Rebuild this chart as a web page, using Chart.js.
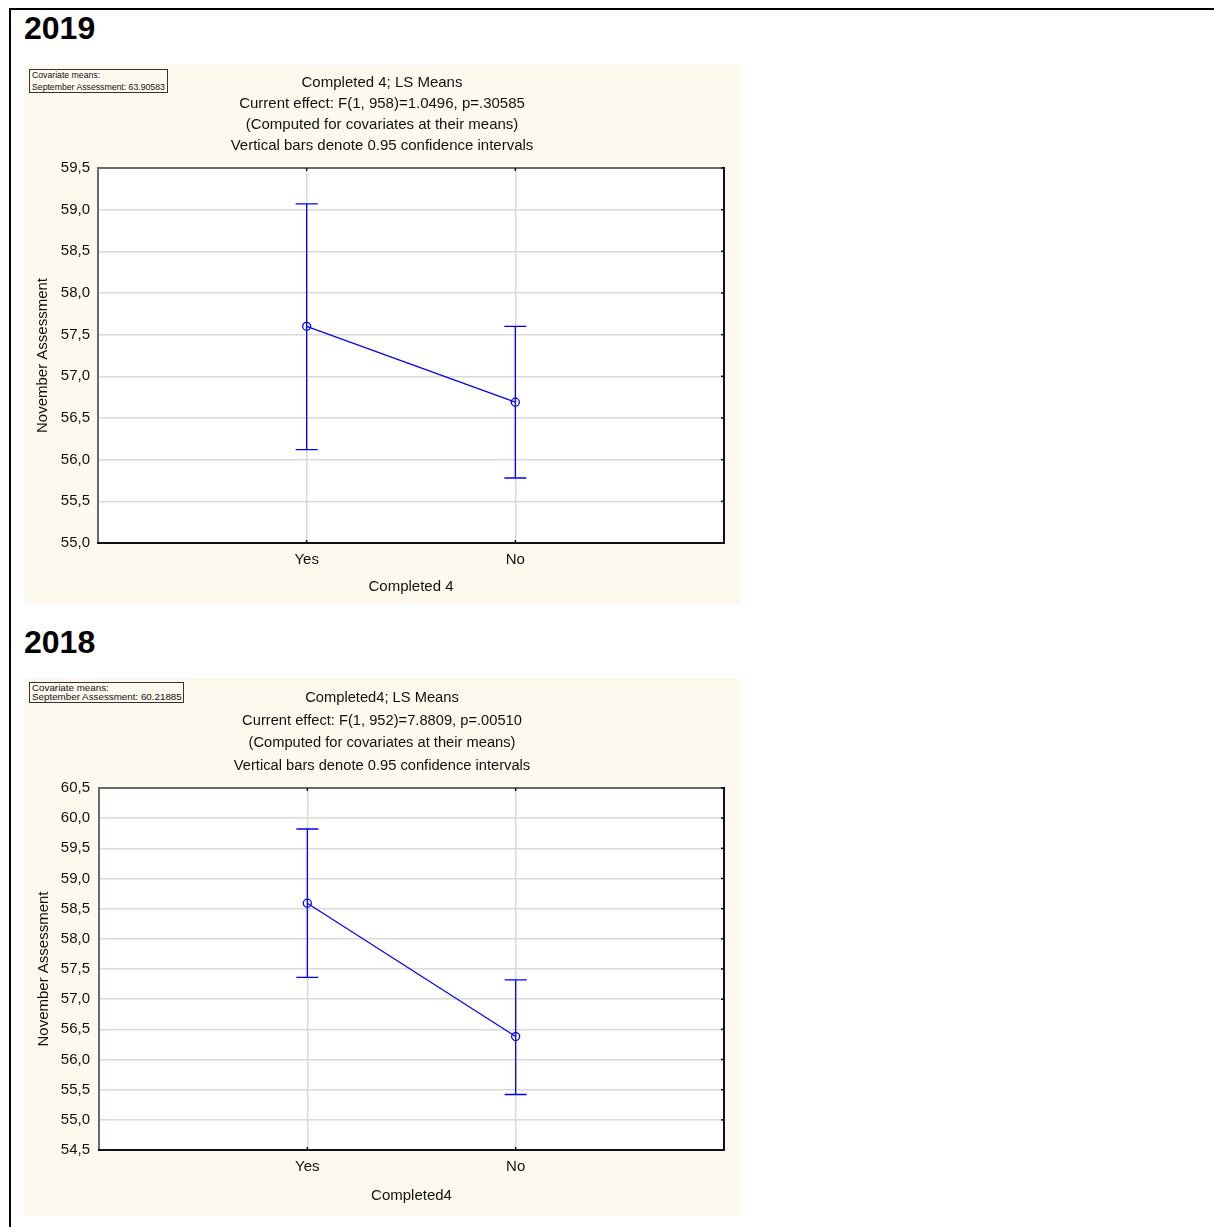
<!DOCTYPE html>
<html>
<head>
<meta charset="utf-8">
<script src="https://cdn.jsdelivr.net/npm/chart.js@4/dist/chart.umd.min.js"></script>
<style>
  html, body { margin: 0; padding: 0; background: #fff; }
  body { width: 1214px; height: 1227px; position: relative; overflow: hidden;
         font-family: "Liberation Sans", Arial, sans-serif; color: #111; }
  #frame { position: absolute; left: 9px; top: 8px; width: 1210px; height: 1225px;
           border-top: 2px solid #000; border-left: 2px solid #000; }
  .year { position: absolute; left: 24px; font-weight: bold; font-size: 32px; line-height: 32px; color: #000; }
  .panel { position: absolute; left: 24px; width: 716px; background: #fdf9ee; }
  .panel canvas { display: block; }
  .cov { position: absolute; border: 1px solid #333; background: #fdf9ee; color: #111;
         box-sizing: border-box; white-space: nowrap; padding-left: 2px; }
</style>
</head>
<body>
<div id="frame"></div>

<div class="year" style="top:12px">2019</div>
<div class="panel" style="top:65px;height:539px">
  <canvas id="chart2019" width="716" height="539"></canvas>
  <div class="cov" style="left:5px;top:4px;width:139px;height:24px;font-size:8.7px;line-height:11.5px;padding-top:0">Covariate means:<br>September Assessment: 63.90583</div>
</div>

<div class="year" style="top:626px">2018</div>
<div class="panel" style="top:678px;height:538px">
  <canvas id="chart2018" width="716" height="538"></canvas>
  <div class="cov" style="left:5px;top:4px;width:155px;height:21px;font-size:9.8px;line-height:9.4px;padding-top:0">Covariate means:<br>September Assessment: 60.21885</div>
</div>

<script>
// Group labels on the x axis
const categories = ['Yes', 'No'];

// 2019: least-squares means and 95% confidence limits
const means2019 = [57.60, 56.69];
const lower2019 = [56.12, 55.78];
const upper2019 = [59.07, 57.60];
const title2019 = [
  'Completed 4; LS Means',
  'Current effect: F(1, 958)=1.0496, p=.30585',
  '(Computed for covariates at their means)',
  'Vertical bars denote 0.95 confidence intervals'
];
const xTitle2019 = 'Completed 4';
const yRange2019 = [55.0, 59.5];

// 2018: least-squares means and 95% confidence limits
const means2018 = [58.59, 56.38];
const lower2018 = [57.36, 55.42];
const upper2018 = [59.82, 57.32];
const title2018 = [
  'Completed4; LS Means',
  'Current effect: F(1, 952)=7.8809, p=.00510',
  '(Computed for covariates at their means)',
  'Vertical bars denote 0.95 confidence intervals'
];
const xTitle2018 = 'Completed4';
const yRange2018 = [54.5, 60.5];

const yTitle = 'November Assessment';
const yStep = 0.5;

const FONT = '"Liberation Sans", Arial, sans-serif';
const BLUE = '#0000ff';
const GRID = '#dadada';
const TEXT = '#111';

// White plotting area, then a frame with small inward tick marks
const plotFrame = {
  id: 'plotFrame',
  beforeDraw(chart) {
    const {ctx, chartArea: a} = chart;
    ctx.save();
    ctx.fillStyle = '#ffffff';
    ctx.fillRect(a.left, a.top, a.right - a.left, a.bottom - a.top);
    ctx.restore();
  },
  afterDraw(chart) {
    const {ctx, chartArea: a, scales} = chart;
    ctx.save();
    ctx.lineWidth = 2;
    ctx.strokeStyle = '#6a6a6a';
    ctx.beginPath();
    ctx.moveTo(a.left, a.bottom); ctx.lineTo(a.left, a.top); ctx.lineTo(a.right, a.top);
    ctx.stroke();
    ctx.strokeStyle = '#111';
    ctx.beginPath();
    ctx.moveTo(a.left - 1, a.bottom); ctx.lineTo(a.right, a.bottom); ctx.lineTo(a.right, a.top - 1);
    ctx.stroke();
    ctx.lineWidth = 1.5;
    scales.y.ticks.forEach(t => {
      const y = scales.y.getPixelForValue(t.value);
      ctx.beginPath(); ctx.moveTo(a.right, y); ctx.lineTo(a.right - 3, y); ctx.stroke();
    });
    scales.x.ticks.forEach(t => {
      const x = scales.x.getPixelForValue(t.value);
      ctx.beginPath(); ctx.moveTo(x, a.bottom); ctx.lineTo(x, a.bottom - 3); ctx.stroke();
      ctx.beginPath(); ctx.moveTo(x, a.top); ctx.lineTo(x, a.top + 3); ctx.stroke();
    });
    ctx.restore();
  }
};

// Vertical confidence-interval bars with end caps
const errorBars = {
  id: 'errorBars',
  afterDatasetsDraw(chart, args, opts) {
    const {ctx, scales: {x, y}} = chart;
    ctx.save();
    ctx.strokeStyle = BLUE;
    ctx.lineWidth = 1.3;
    opts.lower.forEach((lo, i) => {
      const px = x.getPixelForValue(i + 1);
      const yl = y.getPixelForValue(lo);
      const yu = y.getPixelForValue(opts.upper[i]);
      ctx.beginPath();
      ctx.moveTo(px, yl); ctx.lineTo(px, yu);
      ctx.moveTo(px - 11, yl); ctx.lineTo(px + 11, yl);
      ctx.moveTo(px - 11, yu); ctx.lineTo(px + 11, yu);
      ctx.stroke();
    });
    ctx.restore();
  }
};

function buildChart(id, d) {
  const font = {family: FONT, size: 15};
  return new Chart(document.getElementById(id), {
    type: 'scatter',
    data: {
      datasets: [{
        data: d.means.map((m, i) => ({x: i + 1, y: m})),
        showLine: true,
        borderColor: BLUE,
        borderWidth: 1.2,
        pointRadius: 4,
        pointBorderWidth: 1.3,
        pointBorderColor: BLUE,
        pointBackgroundColor: 'rgba(0,0,0,0)'
      }]
    },
    options: {
      responsive: false,
      animation: false,
      events: [],
      layout: {padding: 0},
      plugins: {
        legend: {display: false},
        tooltip: {enabled: false},
        title: {
          display: true,
          text: d.title,
          color: TEXT,
          font: {family: FONT, size: d.titleSize, weight: 'normal', lineHeight: d.titleLH},
          padding: {top: d.titlePadTop, bottom: d.titlePadBottom}
        },
        errorBars: {lower: d.lower, upper: d.upper}
      },
      scales: {
        x: {
          type: 'linear',
          min: 0, max: 3,
          afterBuildTicks: s => { s.ticks = categories.map((c, i) => ({value: i + 1})); },
          afterFit: s => { s.height = d.xAxisH; },
          ticks: {autoSkip: false, maxRotation: 0, padding: 8, color: TEXT, font,
                  callback: (v, i) => categories[i]},
          grid: {color: GRID, lineWidth: 1.5, drawTicks: false},
          border: {display: false},
          title: {display: true, text: d.xTitle, color: TEXT, font,
                  padding: {top: 0, bottom: d.xTitlePad}}
        },
        y: {
          min: d.yRange[0], max: d.yRange[1],
          afterFit: s => { s.width = d.yAxisW; },
          ticks: {stepSize: yStep, padding: d.yTickPad, color: TEXT, font,
                  callback: v => v.toFixed(1).replace('.', ',')},
          grid: {color: GRID, lineWidth: 1.5, drawTicks: false},
          border: {display: false},
          title: {display: true, text: yTitle, color: TEXT, font,
                  padding: {top: d.yTitlePad, bottom: 0}}
        },
        // empty strip on the right so the plot ends short of the panel edge
        gap: {
          position: 'right',
          ticks: {display: false},
          grid: {display: false, drawTicks: false},
          border: {display: false},
          afterFit: s => { s.width = 16; }
        }
      }
    },
    plugins: [plotFrame, errorBars]
  });
}

buildChart('chart2019', {
  means: means2019, lower: lower2019, upper: upper2019,
  title: title2019, xTitle: xTitle2019, yRange: yRange2019,
  titleSize: 15, titleLH: 1.4, titlePadTop: 7.5, titlePadBottom: 11.5,
  xAxisH: 61, xTitlePad: 8.6,
  yAxisW: 74, yTickPad: 8, yTitlePad: 10
});

buildChart('chart2018', {
  means: means2018, lower: lower2018, upper: upper2018,
  title: title2018, xTitle: xTitle2018, yRange: yRange2018,
  titleSize: 14.7, titleLH: 1.542, titlePadTop: 8.7, titlePadBottom: 10.6,
  xAxisH: 66, xTitlePad: 11.6,
  yAxisW: 75, yTickPad: 9, yTitlePad: 11
});
</script>
</body>
</html>
